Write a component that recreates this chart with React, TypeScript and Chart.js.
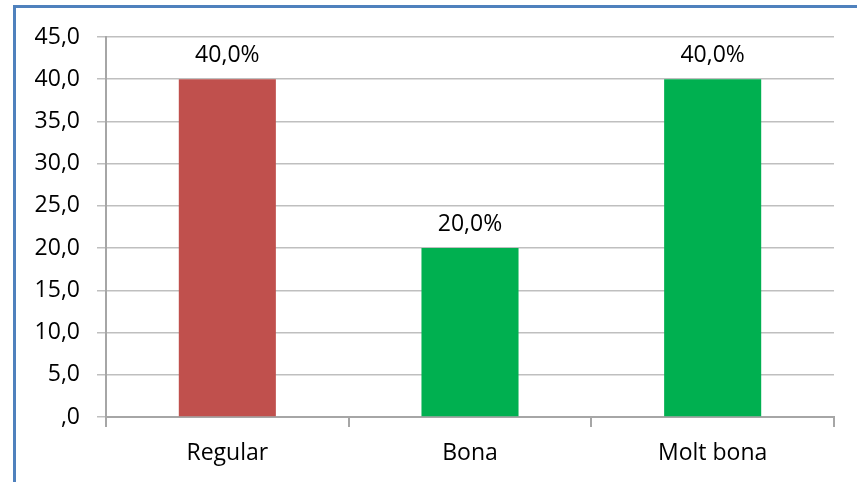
import React, { useEffect, useRef } from "react";
import { Chart, registerables } from "chart.js";

Chart.register(...registerables);

const categories = ["Regular", "Bona", "Molt bona"];
const values = [40.0, 20.0, 40.0];
const barColors = ["#C0504D", "#00B050", "#00B050"];
const yTicks = [0, 5, 10, 15, 20, 25, 30, 35, 40, 45];

const FONT = "'Open Sans', Lato, sans-serif";

const fmt = (v: number) => (v === 0 ? ",0" : v.toFixed(1).replace(".", ","));

const frame = {
  id: "frame",
  beforeDraw(chart: any) {
    const ctx = chart.ctx;
    ctx.save();
    ctx.fillStyle = "#ffffff";
    ctx.fillRect(0, 0, chart.width, chart.height);
    ctx.fillStyle = "#4F81BD";
    ctx.fillRect(13, 5, 3, chart.height - 5);
    ctx.fillRect(13, 5, chart.width - 13, 3);
    ctx.restore();
  },
};

const labelsPlugin = {
  id: "barLabels",
  afterDatasetsDraw(chart: any) {
    const ctx = chart.ctx;
    const meta = chart.getDatasetMeta(0);
    ctx.save();
    ctx.font = `23px ${FONT}`;
    ctx.fillStyle = "#000000";
    ctx.textAlign = "center";
    ctx.textBaseline = "middle";
    meta.data.forEach((bar: any, i: number) => {
      ctx.fillText(fmt(values[i]) + "%", bar.x, bar.y - 24);
    });
    ctx.restore();
  },
};

export default function App() {
  const ref = useRef<HTMLCanvasElement>(null);
  useEffect(() => {
    document.body.style.margin = "0";
    const chart = new Chart(ref.current!, {
      type: "bar",
      data: {
        labels: categories,
        datasets: [
          {
            data: values,
            backgroundColor: barColors,
            barPercentage: 0.4,
            categoryPercentage: 1,
          },
        ],
      },
      options: {
        animation: false,
        responsive: false,
        layout: { padding: { left: 0, top: 37, right: 23, bottom: 0 } },
        plugins: { legend: { display: false }, tooltip: { enabled: false } },
        scales: {
          x: {
            grid: {
              offset: true,
              drawOnChartArea: false,
              color: "#A6A6A6",
              tickLength: 10,
              lineWidth: 2,
            },
            border: { color: "#A6A6A6", width: 2 },
            ticks: {
              color: "#000000",
              font: { family: FONT, size: 23 },
              padding: 13,
            },
            afterFit(scale: any) {
              scale.height = 65;
            },
          },
          y: {
            min: 0,
            max: 45,
            afterBuildTicks(scale: any) {
              scale.ticks = yTicks.map((v) => ({ value: v }));
            },
            grid: { color: "#BFBFBF", tickLength: 9, lineWidth: 1.5 },
            border: { color: "#A6A6A6", width: 2 },
            ticks: {
              color: "#000000",
              font: { family: FONT, size: 23 },
              padding: 17,
              callback: (v: any) => fmt(Number(v)),
            },
            afterFit(scale: any) {
              scale.width = 106;
            },
          },
        },
      },
      plugins: [frame, labelsPlugin],
    });
    return () => chart.destroy();
  }, []);
  return (
    <div style={{ width: 857, height: 482 }}>
      <canvas ref={ref} width={857} height={482} />
    </div>
  );
}
